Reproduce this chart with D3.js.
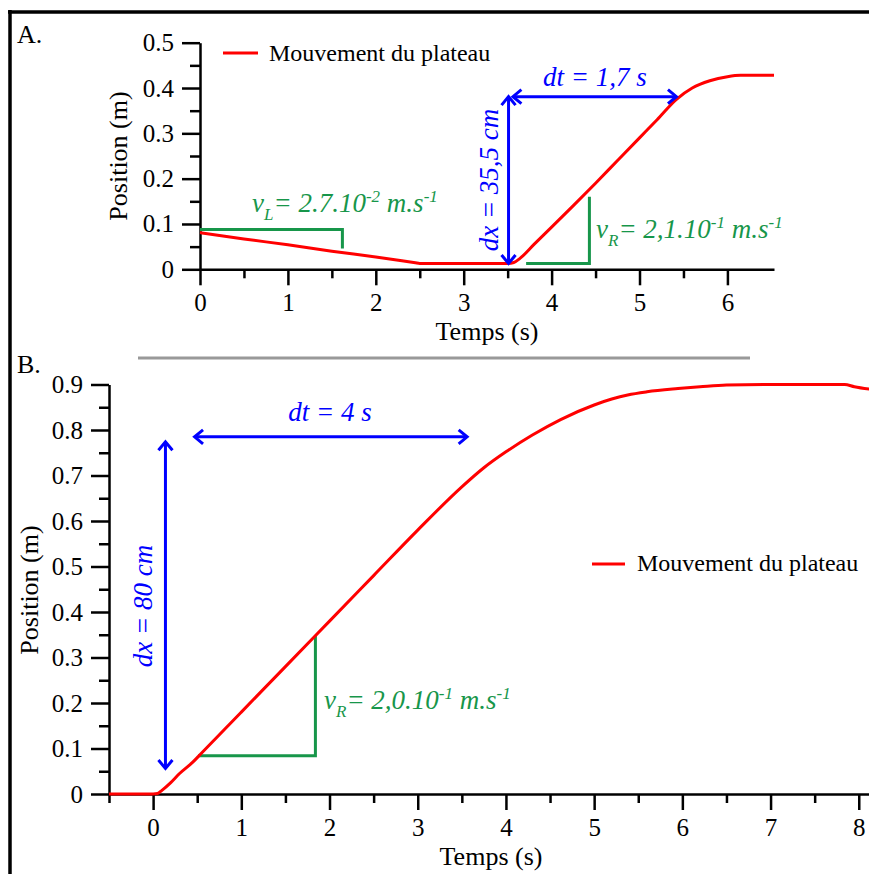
<!DOCTYPE html>
<html><head><meta charset="utf-8">
<script src="https://cdn.jsdelivr.net/npm/d3@7"></script>
<style>
body{margin:0;background:#fff}
svg{display:block}
text{font-family:"Liberation Serif","Times New Roman",serif}
</style></head><body>
<svg id="c" width="869" height="874"></svg>
<script>
// ---------- data ----------
const seriesName = "Mouvement du plateau";
const topTime = [0,0.5,1,1.5,2,2.45,2.5,3,3.5,3.57,3.64,3.8,4.0,4.25,4.5,4.75,5.0,5.2,5.42,5.6,5.8,6.0,6.15,6.3,6.53];
const topPos  = [0.081,0.067,0.054,0.040,0.027,0.0144,0.013,0.013,0.013,0.015,0.024,0.055,0.093,0.141,0.190,0.240,0.290,0.330,0.375,0.400,0.416,0.425,0.428,0.428,0.428];
const botTime = [-0.5,0,0.05,0.1,0.2,0.3,0.45,0.55,1.0,1.5,2.0,2.5,3.0,3.5,3.75,4.0,4.3,4.62,5.0,5.2,5.38,5.6,5.95,6.2,6.5,7.0,7.5,7.84,7.95,8.15];
const botPos  = [0,0,0.001,0.008,0.025,0.045,0.07,0.09,0.18,0.28,0.38,0.48,0.58,0.675,0.717,0.752,0.789,0.823,0.855,0.868,0.877,0.884,0.891,0.895,0.899,0.9,0.9,0.9,0.895,0.889];
const topXTicks = [0,1,2,3,4,5,6];
const topYTicks = [0,0.1,0.2,0.3,0.4,0.5];
const botXTicks = [0,1,2,3,4,5,6,7,8];
const botYTicks = [0,0.1,0.2,0.3,0.4,0.5,0.6,0.7,0.8,0.9];
// annotations (data units)
const topDt = [3.56, 5.42, 0.381];      // t0, t1, y
const topDx = [3.51, 0.013, 0.381];     // t, y0, y1
const topVL = [[0,0.088],[1.62,0.088],[1.62,0.046]];
const topVR = [[3.71,0.013],[4.43,0.013],[4.43,0.16]];
const botDt = [0.47, 3.56, 0.785];
const botDx = [0.14, 0.056, 0.774];
const botVR = [[0.51,0.084],[1.84,0.084],[1.84,0.347]];

const RED="#ff0000", BLUE="#0000ff", GREEN="#17964a";
const SERIF='"Liberation Serif","Times New Roman",serif';
const svg = d3.select("#c");

// frame
svg.append("line").attr("x1",8).attr("x2",869).attr("y1",12).attr("y2",12).attr("stroke","#000").attr("stroke-width",3.5);
svg.append("line").attr("x1",10).attr("x2",10).attr("y1",10).attr("y2",874).attr("stroke","#000").attr("stroke-width",3.5);
svg.append("line").attr("x1",138).attr("x2",750).attr("y1",358).attr("y2",358).attr("stroke","#999").attr("stroke-width",3);

svg.append("text").attr("x",17).attr("y",43).attr("font-size",26).text("A.");
svg.append("text").attr("x",17).attr("y",373).attr("font-size",26).text("B.");

function axes(g, x, y, xt, yt, xMinor, yMinor, fmtY){
  const ax = g.append("g").attr("transform",`translate(0,${y(0)})`)
    .call(d3.axisBottom(x).tickValues(xMinor).tickSize(9).tickSizeOuter(0).tickFormat(""));
  ax.select(".domain").remove();
  g.append("g").attr("transform",`translate(0,${y(0)})`)
    .call(d3.axisBottom(x).tickValues(xt).tickSize(16).tickSizeOuter(0).tickPadding(8).tickFormat(d3.format("d")));
  const ay = g.append("g").attr("transform",`translate(${x.range()[0]},0)`)
    .call(d3.axisLeft(y).tickValues(yMinor).tickSize(10).tickSizeOuter(0).tickFormat(""));
  ay.select(".domain").remove();
  g.append("g").attr("transform",`translate(${x.range()[0]},0)`)
    .call(d3.axisLeft(y).tickValues(yt).tickSize(18).tickSizeOuter(0).tickPadding(8).tickFormat(fmtY));
  g.selectAll("g").attr("font-family",null).attr("font-size",null);
  g.selectAll(".domain,.tick line").attr("stroke","#000").attr("stroke-width",2.5);
  g.selectAll(".tick text").style("font-size","25px").style("font-family",SERIF).attr("fill","#000");
}
const fmtY = d => d===0 ? "0" : d3.format(".1f")(d);

function arrowHead(g, tx, ty, dir, color){
  const L=11, a=Math.PI*0.22;
  const p1=[tx-L*Math.cos(dir-a), ty-L*Math.sin(dir-a)];
  const p2=[tx-L*Math.cos(dir+a), ty-L*Math.sin(dir+a)];
  g.append("path").attr("d",`M${p1}L${tx},${ty}L${p2}`).attr("fill","none")
   .attr("stroke",color).attr("stroke-width",3).attr("stroke-linejoin","miter");
}
function dblArrowH(g, x, y, arr){
  const x0=x(arr[0]), x1=x(arr[1]), yy=y(arr[2]);
  g.append("line").attr("x1",x0+1).attr("x2",x1-1).attr("y1",yy).attr("y2",yy).attr("stroke",BLUE).attr("stroke-width",3);
  arrowHead(g,x0,yy,Math.PI,BLUE); arrowHead(g,x1,yy,0,BLUE);
}
function dblArrowV(g, x, y, arr){
  const xx=x(arr[0]), y0=y(arr[1]), y1=y(arr[2]);
  g.append("line").attr("x1",xx).attr("x2",xx).attr("y1",y0-1).attr("y2",y1+1).attr("stroke",BLUE).attr("stroke-width",3);
  arrowHead(g,xx,y0,Math.PI/2,BLUE); arrowHead(g,xx,y1,-Math.PI/2,BLUE);
}
function greenPoly(g,x,y,pts){
  g.append("path").attr("d",d3.line().x(d=>x(d[0])).y(d=>y(d[1]))(pts))
   .attr("fill","none").attr("stroke",GREEN).attr("stroke-width",3);
}
function velText(g, xPos, yPos, sub, mant, exp){
  const t=g.append("text").attr("x",xPos).attr("y",yPos).attr("font-size",27).attr("font-style","italic").attr("fill",GREEN);
  t.append("tspan").text("v");
  t.append("tspan").attr("font-size",17).attr("dy",8).text(sub);
  t.append("tspan").attr("dy",-8).text("= "+mant+".10");
  t.append("tspan").attr("font-size",17).attr("dy",-10).text(exp);
  t.append("tspan").attr("dy",10).text(" m.s");
  t.append("tspan").attr("font-size",17).attr("dy",-10).text("-1");
}

// ---------- panel A ----------
{
  const g = svg.append("g");
  const x = d3.scaleLinear().domain([0,6.53]).range([200,774]);
  const y = d3.scaleLinear().domain([0,0.5]).range([269.3,42.7]);
  axes(g,x,y,topXTicks,topYTicks,d3.range(0.5,6.5,1),d3.range(0.05,0.5,0.1),fmtY);
  greenPoly(g,x,y,topVL); greenPoly(g,x,y,topVR);
  g.append("path").attr("d",d3.line().x((d,i)=>x(topTime[i])).y(d=>y(d)).curve(d3.curveMonotoneX)(topPos))
   .attr("fill","none").attr("stroke",RED).attr("stroke-width",3);
  dblArrowH(g,x,y,topDt); dblArrowV(g,x,y,topDx);
  g.append("text").attr("x",543).attr("y",86).attr("font-size",27).attr("font-style","italic").attr("fill",BLUE).text("dt = 1,7 s");
  g.append("text").attr("transform","translate(498,180) rotate(-90)").attr("text-anchor","middle")
   .attr("font-size",27).attr("font-style","italic").attr("fill",BLUE).text("dx = 35,5 cm");
  velText(g,252,212,"L","2.7","-2");
  velText(g,596,238,"R","2,1","-1");
  g.append("text").attr("transform","translate(127,156) rotate(-90)").attr("text-anchor","middle").attr("font-size",26).text("Position (m)");
  g.append("text").attr("x",487).attr("y",340).attr("text-anchor","middle").attr("font-size",26).text("Temps (s)");
  g.append("line").attr("x1",223).attr("x2",258).attr("y1",53).attr("y2",53).attr("stroke",RED).attr("stroke-width",3);
  g.append("text").attr("x",269).attr("y",61).attr("font-size",24).text(seriesName);
}

// ---------- panel B ----------
{
  const g = svg.append("g");
  const x = d3.scaleLinear().domain([-0.5,8.15]).range([109,872]);
  const y = d3.scaleLinear().domain([0,0.9]).range([794,384.5]);
  axes(g,x,y,botXTicks,botYTicks,d3.range(-0.5,8.2,1),d3.range(0.05,0.9,0.1),fmtY);
  greenPoly(g,x,y,botVR);
  g.append("path").attr("d",d3.line().x((d,i)=>x(botTime[i])).y(d=>y(d)).curve(d3.curveMonotoneX)(botPos))
   .attr("fill","none").attr("stroke",RED).attr("stroke-width",3);
  dblArrowH(g,x,y,botDt); dblArrowV(g,x,y,botDx);
  g.append("text").attr("x",330).attr("y",421).attr("text-anchor","middle").attr("font-size",27).attr("font-style","italic").attr("fill",BLUE).text("dt = 4 s");
  g.append("text").attr("transform","translate(152,606) rotate(-90)").attr("text-anchor","middle")
   .attr("font-size",27).attr("font-style","italic").attr("fill",BLUE).text("dx = 80 cm");
  velText(g,324,709,"R","2,0","-1");
  g.append("text").attr("transform","translate(38,590) rotate(-90)").attr("text-anchor","middle").attr("font-size",26).text("Position (m)");
  g.append("text").attr("x",491).attr("y",865).attr("text-anchor","middle").attr("font-size",26).text("Temps (s)");
  g.append("line").attr("x1",592).attr("x2",625).attr("y1",564).attr("y2",564).attr("stroke",RED).attr("stroke-width",3);
  g.append("text").attr("x",637).attr("y",571).attr("font-size",24).text(seriesName);
}
</script></body></html>
